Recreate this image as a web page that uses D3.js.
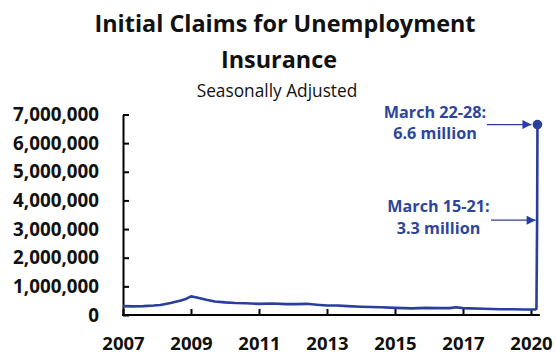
<!DOCTYPE html>
<html><head><meta charset="utf-8">
<script src="https://cdn.jsdelivr.net/npm/d3@7"></script>
<style>
html,body{margin:0;padding:0;background:#fff;}
svg{display:block;font-family:"Open Sans",sans-serif;}
</style></head>
<body>
<svg id="chart" width="556" height="354"></svg>
<script>
// Data (x in axis-years as drawn, y in millions of claims)
const years = [2007.0,2007.3,2007.6,2007.9,2008.1,2008.4,2008.7,2008.85,2009.0,2009.1,2009.2,2009.45,2009.7,2010.0,2010.3,2010.6,2011.0,2011.4,2011.8,2012.1,2012.4,2012.7,2013.0,2013.3,2013.6,2014.0,2014.3,2014.6,2015.0,2015.5,2015.9,2016.3,2016.6,2016.8,2017.0,2017.2,2017.6,2018.1,2018.5,2018.8,2019.0,2019.12,2019.16,2019.18,2019.19];
const claims = [0.31,0.30,0.31,0.33,0.35,0.42,0.51,0.56,0.65,0.63,0.60,0.53,0.47,0.44,0.42,0.41,0.39,0.40,0.38,0.38,0.39,0.36,0.33,0.33,0.31,0.29,0.28,0.27,0.25,0.23,0.25,0.24,0.24,0.27,0.24,0.23,0.22,0.20,0.20,0.19,0.19,0.19,0.22,3.31,6.65];
const xTickValues = [2007,2009,2011,2013,2015,2017,2019];
const xTickLabels = ["2007","2009","2011","2013","2015","2017","2020"];
const yTickValues = [0,1,2,3,4,5,6,7];
const titleLines = ["Initial Claims for Unemployment","Insurance"];
const subtitle = "Seasonally Adjusted";
const annotations = [
  {lines:["March 22-28:","6.6 million"], idx:44},
  {lines:["March 15-21:","3.3 million"], idx:43}
];

const blue = "#2A3E9E";
const textBlue = "#2E4699";
const svg = d3.select("#chart");

const x = d3.scaleLinear().domain([2007, 2019.2]).range([123, 537.8]);
const y = d3.scaleLinear().domain([0, 7]).range([315, 114.5]);

// title
svg.append("g").selectAll("text").data(titleLines).join("text")
  .attr("x", (d,i)=> i===0 ? 285 : 279).attr("y", (d,i)=>32 + i*36)
  .attr("text-anchor","middle").attr("font-weight","bold")
  .attr("font-size",23.4).attr("fill","#111").text(d=>d);
svg.append("text").attr("x",277).attr("y",96.5).attr("text-anchor","middle")
  .attr("font-size",17.3).attr("fill","#111").text(subtitle);

// y axis
const yAxis = svg.append("g").attr("transform",`translate(${x.range()[0]},0)`)
  .call(d3.axisLeft(y).tickValues(yTickValues).tickSizeInner(-6).tickSizeOuter(0)
    .tickPadding(24).tickFormat(d=>d3.format(",")(d*1e6)));
yAxis.select(".domain").attr("stroke","#000").attr("stroke-width",2);
yAxis.selectAll(".tick line").attr("stroke","#000").attr("stroke-width",2);
yAxis.selectAll(".tick text").attr("font-family","Open Sans").attr("font-weight","bold")
  .attr("font-size",18.8).attr("fill","#111");

// x axis
const xAxis = svg.append("g").attr("transform",`translate(0,${y(0)})`)
  .call(d3.axisBottom(x).tickValues(xTickValues).tickSizeInner(-6).tickSizeOuter(0)
    .tickPadding(22).tickFormat((d,i)=>xTickLabels[i]));
xAxis.select(".domain").attr("stroke","#000").attr("stroke-width",2)
  .attr("d", `M${x.range()[0]-1},0H${x.range()[1]+2}`);
xAxis.selectAll(".tick line").attr("stroke","#000").attr("stroke-width",2);
xAxis.selectAll(".tick text").attr("font-family","Open Sans").attr("font-weight","bold")
  .attr("font-size",18.5).attr("fill","#111");

// line
const pts = years.map((yr,i)=>({yr, v:claims[i]}));
svg.append("path").datum(pts)
  .attr("fill","none").attr("stroke",blue).attr("stroke-width",2.6)
  .attr("stroke-linejoin","round")
  .attr("d", d3.line().x(d=>x(d.yr)).y(d=>y(d.v)));

// end dot
const last = pts[pts.length-1];
svg.append("circle").attr("cx",x(last.yr)).attr("cy",y(last.v)).attr("r",4.8).attr("fill",blue);

// annotations
const defs = svg.append("defs");
defs.append("marker").attr("id","arr").attr("viewBox","0 0 10 10")
  .attr("refX",10).attr("refY",5).attr("markerWidth",11).attr("markerHeight",9)
  .attr("markerUnits","userSpaceOnUse").attr("orient","auto")
  .append("path").attr("d","M0,0L10,5L0,10Z").attr("fill",blue);

annotations.forEach((a,k)=>{
  const p = pts[a.idx];
  const ty = y(p.v);
  const g = svg.append("g");
  const cx = k===0 ? 435 : 438.5;
  const base = k===0 ? ty - 7 : ty - 8;
  g.selectAll("text").data(a.lines).join("text")
    .attr("x",cx).attr("y",(d,i)=>base + i*21.5)
    .attr("text-anchor","middle").attr("font-weight","bold").attr("font-size",16.2)
    .attr("fill",textBlue).text(d=>d);
  const tipX = k===0 ? x(p.yr) - 6 : x(p.yr) - 1.5;
  g.append("line").attr("x1", k===0 ? 487 : 491).attr("x2", tipX)
    .attr("y1",ty).attr("y2",ty).attr("stroke",blue).attr("stroke-width",1.2)
    .attr("marker-end","url(#arr)");
});
</script>
</body></html>
